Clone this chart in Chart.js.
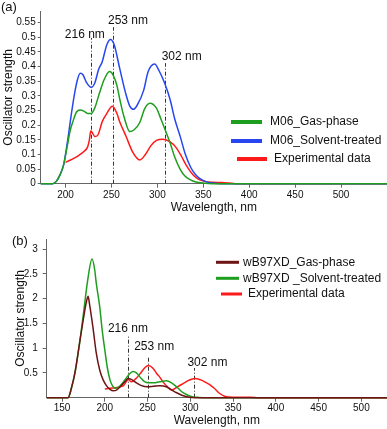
<!DOCTYPE html>
<html>
<head>
<meta charset="utf-8">
<script src="https://cdn.jsdelivr.net/npm/chart.js@4.4.1/dist/chart.umd.min.js"></script>
<style>
    html, body { margin: 0; padding: 0; background: #fff; }
    #wrapA { position: absolute; left: 0; top: 0; width: 387px; height: 215px; }
    #wrapB { position: absolute; left: 0; top: 210px; width: 387px; height: 219px; }
</style>
</head>
<body>
<div id="wrapA"><canvas id="chartA" width="387" height="215"></canvas></div>
<div id="wrapB"><canvas id="chartB" width="387" height="219"></canvas></div>
<script>
// ---- Panel (a): M06 ----
const wlGasA = [173, 186, 190, 194, 198, 202, 205, 208, 212, 216, 220, 224, 228, 232, 237, 242, 248, 252, 256, 259, 264, 270, 275, 281, 286, 292, 299, 304, 308, 314, 319, 325, 330, 336, 342, 350, 360, 550];
const gasA   = [0, 0, 0.008, 0.03, 0.065, 0.13, 0.18, 0.212, 0.245, 0.252, 0.248, 0.24, 0.24, 0.26, 0.31, 0.355, 0.383, 0.37, 0.335, 0.29, 0.225, 0.178, 0.185, 0.21, 0.255, 0.275, 0.258, 0.22, 0.188, 0.138, 0.09, 0.048, 0.026, 0.013, 0.006, 0.002, 0, 0];

const wlSolvA = [173, 186, 190, 194, 198, 202, 206, 210, 213, 216, 219, 223, 228, 232, 236, 240, 245, 249, 253, 259, 266, 270, 274, 278, 285, 290, 297, 302, 308, 314, 319, 325, 330, 336, 341, 346, 352, 360, 370, 550];
const solvA   = [0, 0, 0.008, 0.03, 0.065, 0.14, 0.23, 0.31, 0.355, 0.377, 0.372, 0.345, 0.329, 0.345, 0.39, 0.417, 0.475, 0.493, 0.475, 0.394, 0.303, 0.265, 0.254, 0.268, 0.318, 0.383, 0.409, 0.385, 0.343, 0.286, 0.22, 0.16, 0.105, 0.058, 0.033, 0.018, 0.008, 0.002, 0, 0];

const wlExpA = [200, 205, 210, 215, 220, 224, 226, 227.5, 229, 232, 235, 240, 245, 251, 256, 259, 266, 273, 281, 287, 293, 299, 306, 314, 320, 326, 332, 339, 345, 352, 360, 370, 378, 385, 550];
const expA   = [0.073, 0.08, 0.088, 0.098, 0.11, 0.125, 0.15, 0.18, 0.175, 0.161, 0.165, 0.212, 0.24, 0.265, 0.24, 0.212, 0.161, 0.109, 0.081, 0.1, 0.13, 0.148, 0.152, 0.143, 0.125, 0.095, 0.06, 0.03, 0.015, 0.008, 0.005, 0.004, 0.002, 0, 0];

const xTicksA = [200, 250, 300, 350, 400, 450, 500];
const yTicksA = [0, 0.05, 0.1, 0.15, 0.2, 0.25, 0.3, 0.35, 0.4, 0.45, 0.5, 0.55];

// ---- Panel (b): wB97XD ----
const wlGasB = [132, 157, 161, 165, 171, 175, 178, 180.4, 182, 186, 190, 194, 198, 202, 206, 210, 214, 219, 224, 227, 231, 236, 242, 250, 257, 264, 272, 278, 284, 290, 296, 302, 310, 530];
const gasB   = [0, 0, 0.2, 0.5, 1.17, 1.6, 1.9, 2.05, 1.9, 1.43, 0.9, 0.56, 0.36, 0.24, 0.17, 0.14, 0.16, 0.24, 0.33, 0.39, 0.37, 0.31, 0.25, 0.22, 0.23, 0.24, 0.22, 0.16, 0.1, 0.05, 0.02, 0.005, 0, 0];

const wlSolvB = [132, 157, 161, 165, 171, 175, 180, 185, 188, 190, 194, 197, 200, 203, 206, 209, 212, 216, 221, 226, 230, 233, 237, 242, 246, 251, 257, 264, 272, 278, 284, 290, 296, 302, 310, 320, 530];
const solvB   = [0, 0, 0.2, 0.5, 1.17, 1.7, 2.38, 2.8, 2.6, 2.31, 1.84, 1.35, 0.96, 0.6, 0.36, 0.24, 0.19, 0.21, 0.3, 0.42, 0.5, 0.53, 0.5, 0.4, 0.33, 0.3, 0.3, 0.32, 0.34, 0.3, 0.22, 0.12, 0.06, 0.02, 0.005, 0, 0];

const wlExpB = [200, 206, 212, 218, 222, 225, 227.5, 231, 236, 242, 247, 251, 256, 261, 264, 268, 272, 278, 285, 292, 298, 305, 312, 318, 323, 328, 334, 340, 346, 355, 370, 380, 530];
const expB   = [0.175, 0.19, 0.2, 0.22, 0.25, 0.32, 0.37, 0.32, 0.38, 0.5, 0.61, 0.65, 0.6, 0.48, 0.42, 0.32, 0.24, 0.155, 0.22, 0.29, 0.35, 0.39, 0.36, 0.31, 0.26, 0.19, 0.09, 0.03, 0.015, 0.01, 0.008, 0, 0];

const xTicksB = [150, 200, 250, 300, 350, 400, 450, 500];
const yTicksB = [0.5, 1, 1.5, 2, 2.5, 3];

// peak markers (wavelength of the dash-dot line, its top, label spot)
const peakLabels = ['216 nm', '253 nm', '302 nm'];
const peakLineA = [228, 252, 308];
const peakTopA = [0.498, 0.535, 0.412];
const peakLabelXA = [221, 268, 326.5];
const peakLabelYA = [0.508, 0.557, 0.433];
const peakLineB = [227, 251, 304];
const peakTopB = [1.25, 0.83, 0.6];
const peakLabelXB = [227, 257.7, 320];
const peakLabelYB = [1.4, 1.03, 0.71];

const FONT = '"Liberation Sans", Arial, sans-serif';
const GREEN = '#1e9e1e';
const BLUE = '#2846f0';
const RED = '#ff1a1a';
const DARKRED = '#6e1414';

function toPoints(xs, ys) {
    return xs.map((x, i) => ({x: x, y: ys[i]}));
}

// draws the dash-dot peak lines, their labels, the legend and the panel letter
const overlayPlugin = {
    id: 'overlay',
    beforeDatasetsDraw(chart, args, opts) {
        const ctx = chart.ctx;
        const xs = chart.scales.x, ys = chart.scales.y;
        ctx.save();
        ctx.strokeStyle = '#333';
        ctx.lineWidth = 1;
        ctx.setLineDash([4, 2, 1, 2]);
        opts.lines.forEach((wl, i) => {
            const px = Math.round(xs.getPixelForValue(wl)) + 0.5;
            ctx.beginPath();
            ctx.moveTo(px, ys.getPixelForValue(0));
            ctx.lineTo(px, ys.getPixelForValue(opts.tops[i]));
            ctx.stroke();
        });
        ctx.restore();
    },
    afterDraw(chart, args, opts) {
        const ctx = chart.ctx;
        const xs = chart.scales.x, ys = chart.scales.y;
        ctx.save();
        ctx.fillStyle = '#111';
        ctx.font = '12px ' + FONT;
        ctx.textAlign = 'center';
        ctx.textBaseline = 'middle';
        peakLabels.forEach((t, i) => {
            ctx.fillText(t, xs.getPixelForValue(opts.labelX[i]), ys.getPixelForValue(opts.labelY[i]));
        });
        // legend
        ctx.textAlign = 'left';
        opts.legend.forEach(item => {
            ctx.strokeStyle = item.color;
            ctx.lineWidth = opts.legendWidth;
            ctx.beginPath();
            ctx.moveTo(item.x0, item.y);
            ctx.lineTo(item.x1, item.y);
            ctx.stroke();
            ctx.fillText(item.text, item.tx, item.y);
        });
        ctx.font = '13px ' + FONT;
        ctx.fillText(opts.letter.text, opts.letter.x, opts.letter.y);
        ctx.restore();
    }
};

function makeChart(canvasId, sets, p) {
    const config = {
        type: 'line',
        data: {
            datasets: sets.map(s => ({
                data: toPoints(s.xs, s.ys),
                borderColor: s.color,
                borderWidth: 1.5,
                pointRadius: 0,
                fill: false,
                clip: 4, // keep the zero baseline visible along the axis
                cubicInterpolationMode: 'monotone'
            }))
        },
        options: {
            responsive: false,
            animation: false,
            devicePixelRatio: 1,
            layout: {padding: {top: p.padTop, left: 0, right: 0, bottom: 0}},
            plugins: {
                legend: {display: false},
                tooltip: {enabled: false},
                overlay: p.overlay
            },
            scales: {
                x: {
                    type: 'linear',
                    min: p.xMin,
                    max: p.xMax,
                    afterBuildTicks: scale => { scale.ticks = p.xTicks.map(v => ({value: v})); },
                    afterFit: scale => { scale.height = p.xHeight; },
                    grid: {display: true, drawOnChartArea: false, tickLength: 4, color: '#666'},
                    border: {color: '#666'},
                    ticks: {color: '#111', font: {family: FONT, size: 10}, padding: p.xTickPad, maxRotation: 0},
                    title: {display: true, text: 'Wavelength, nm', color: '#111', font: {family: FONT, size: 12}, padding: {top: 0, bottom: p.xTitlePad}}
                },
                y: {
                    type: 'linear',
                    min: 0,
                    max: p.yMax,
                    afterBuildTicks: scale => { scale.ticks = p.yTicks.map(v => ({value: v})); },
                    afterFit: scale => { scale.width = p.yWidth; },
                    grid: {display: true, drawOnChartArea: false, tickLength: p.yTickLen, color: '#666'},
                    border: {color: '#666'},
                    ticks: {
                        color: '#111', font: {family: FONT, size: 10}, padding: p.yTickPad,
                        callback: v => String(Number(v.toFixed(2)))
                    },
                    title: {display: true, text: 'Oscillator strength', color: '#111', font: {family: FONT, size: 12}, padding: {top: p.yTitlePad, bottom: 0}}
                }
            }
        },
        plugins: [overlayPlugin]
    };
    return new Chart(document.getElementById(canvasId), config);
}

// Panel (a)
makeChart('chartA', [
    {xs: wlGasA, ys: gasA, color: GREEN},
    {xs: wlSolvA, ys: solvA, color: BLUE},
    {xs: wlExpA, ys: expA, color: RED}
], {
    padTop: 11, xMin: 173, xMax: 550, yMax: 0.59,
    xTicks: xTicksA, yTicks: yTicksA,
    xHeight: 31.3, yWidth: 40.7, xTickPad: 2, yTickPad: 2, yTickLen: 3,
    xTitlePad: 0, yTitlePad: 1.5,
    overlay: {
        lines: peakLineA, tops: peakTopA, labelX: peakLabelXA, labelY: peakLabelYA,
        legendWidth: 4,
        legend: [
            {color: GREEN, text: 'M06_Gas-phase', x0: 231, x1: 262, tx: 270, y: 122},
            {color: BLUE, text: 'M06_Solvent-treated', x0: 231, x1: 262, tx: 270, y: 141},
            {color: RED, text: 'Experimental data', x0: 237, x1: 267, tx: 274, y: 159}
        ],
        letter: {text: '(a)', x: 1, y: 7}
    }
});

// Panel (b)
makeChart('chartB', [
    {xs: wlGasB, ys: gasB, color: DARKRED},
    {xs: wlSolvB, ys: solvB, color: GREEN},
    {xs: wlExpB, ys: expB, color: RED}
], {
    padTop: 29.3, xMin: 132, xMax: 530, yMax: 3.2,
    xTicks: xTicksB, yTicks: yTicksB,
    xHeight: 31.3, yWidth: 46.7, xTickPad: 1, yTickPad: 5, yTickLen: 4,
    xTitlePad: 1, yTitlePad: 13.5,
    overlay: {
        lines: peakLineB, tops: peakTopB, labelX: peakLabelXB, labelY: peakLabelYB,
        legendWidth: 3,
        legend: [
            {color: DARKRED, text: 'wB97XD_Gas-phase', x0: 216, x1: 239, tx: 243, y: 52.3},
            {color: GREEN, text: 'wB97XD _Solvent-treated', x0: 216, x1: 239, tx: 243, y: 68.3},
            {color: RED, text: 'Experimental data', x0: 221, x1: 242, tx: 248, y: 84}
        ],
        letter: {text: '(b)', x: 12, y: 31.7}
    }
});
</script>
</body>
</html>
